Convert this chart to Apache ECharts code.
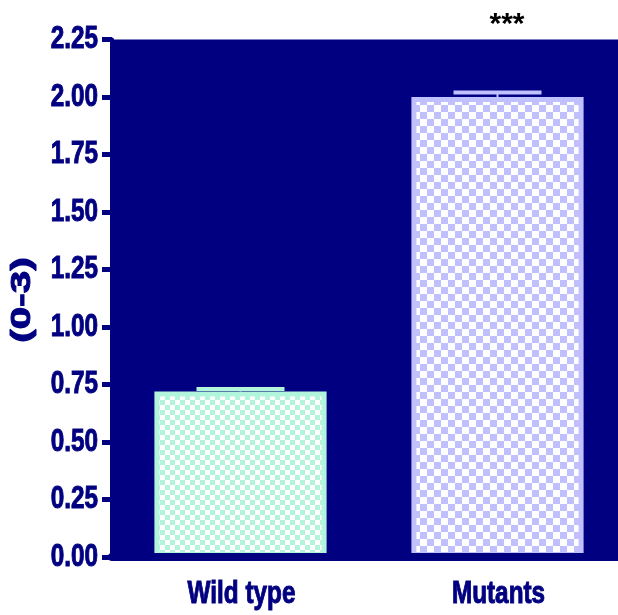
<!DOCTYPE html>
<html>
<head>
<meta charset="utf-8">
<script src="https://cdn.jsdelivr.net/npm/echarts@6/dist/echarts.min.js"></script>
<style>
  html, body { margin: 0; padding: 0; background: #ffffff; }
  #chart { width: 618px; height: 615px; }
</style>
</head>
<body>
<div id="chart"></div>
<script>
// Score (0-3) per group: bar = mean, cap = mean + SEM
const categories = ['Wild type', 'Mutants'];
const means = [0.72, 2.00];
const sems = [0.01, 0.02];
const yTicks = [0, 0.25, 0.5, 0.75, 1.0, 1.25, 1.5, 1.75, 2.0, 2.25];
const significance = '***';

const NAVY = '#000080';
const barColors = ['#b3f5dc', '#c0c0ff'];
const checkSizes = [5, 7];
// bold sans squeezed horizontally to get a narrow face
const LABEL_FONT = "'Liberation Sans', Arial, sans-serif";
const NARROW = 0.76;

// checkerboard tile: colour squares alternating with white
function checker(color, s) {
  const c = document.createElement('canvas');
  c.width = 2 * s; c.height = 2 * s;
  const g = c.getContext('2d');
  g.fillStyle = '#ffffff';
  g.fillRect(0, 0, 2 * s, 2 * s);
  g.fillStyle = color;
  g.fillRect(0, 0, s, s);
  g.fillRect(s, s, s, s);
  return c;
}

const chart = echarts.init(document.getElementById('chart'), null, { renderer: 'canvas' });

const barData = means.map((v, i) => ({
  value: v,
  itemStyle: {
    color: { image: checker(barColors[i], checkSizes[i]), repeat: 'repeat' },
    borderColor: barColors[i],
    borderWidth: 5
  }
}));

const errData = means.map((v, i) => [i, v, v + sems[i]]);

chart.setOption({
  animation: false,
  backgroundColor: '#ffffff',
  grid: {
    left: 112, top: 39.5, width: 514, height: 517.5,
    outerBoundsMode: 'none',
    show: true, backgroundColor: NAVY, borderWidth: 0
  },
  xAxis: {
    type: 'category',
    data: categories,
    z: 5,
    axisLine: { lineStyle: { color: NAVY, width: 8 } },
    axisTick: { alignWithLabel: true, length: 15, lineStyle: { color: NAVY, width: 5 } },
    axisLabel: { show: false },
    splitLine: { show: false }
  },
  yAxis: {
    type: 'value',
    min: yTicks[0], max: yTicks[yTicks.length - 1], interval: 0.25,
    z: 5,
    axisLine: { show: true, lineStyle: { color: NAVY, width: 4 } },
    axisTick: { show: true, length: 10, lineStyle: { color: NAVY, width: 5 } },
    axisLabel: { show: false },
    splitLine: { show: false }
  },
  series: [
    {
      type: 'bar',
      data: barData,
      barWidth: '67%',
      z: 2
    },
    {
      type: 'custom',
      z: 3,
      data: errData,
      renderItem: function (params, api) {
        const i = api.value(0);
        const base = api.coord([i, api.value(1)]);
        const top = api.coord([i, api.value(2)]);
        const half = 44;
        const col = barColors[i];
        return {
          type: 'group',
          children: [
            { type: 'line', shape: { x1: base[0], y1: base[1], x2: top[0], y2: top[1] },
              style: { stroke: col, lineWidth: 2 } },
            { type: 'line', shape: { x1: top[0] - half, y1: top[1], x2: top[0] + half, y2: top[1] },
              style: { stroke: col, lineWidth: 4 } }
          ]
        };
      }
    }
  ]
});

// heavier strokes for the label text
const heavy = { stroke: NAVY, lineWidth: 1 };

// tick labels placed at the axes' own pixel positions
const labels = [];
yTicks.forEach(t => {
  const y = chart.convertToPixel({ yAxisIndex: 0 }, t);
  labels.push({
    type: 'text', x: 98, y: y, scaleX: NARROW,
    style: Object.assign({ text: t.toFixed(2), fill: NAVY, font: 'bold 32px ' + LABEL_FONT,
             align: 'right', verticalAlign: 'middle' }, heavy)
  });
});
categories.forEach(c => {
  const x = chart.convertToPixel({ xAxisIndex: 0 }, c);
  labels.push({
    type: 'text', x: x + 1, y: 594, scaleX: NARROW,
    style: Object.assign({ text: c, fill: NAVY, font: 'bold 32px ' + LABEL_FONT,
             align: 'center', verticalAlign: 'middle' }, heavy)
  });
});
// axis title, reading bottom to top
labels.push({
  type: 'text', x: 22.5, y: 300, rotation: Math.PI / 2, scaleX: 1.5,
  style: Object.assign({ text: '(0-3)', fill: NAVY, font: 'bold 27px ' + LABEL_FONT,
           align: 'center', verticalAlign: 'middle' }, heavy)
});
// significance marker above the mutant bar
labels.push({
  type: 'text', x: 507, y: 25,
  style: { text: significance, fill: '#000000', font: 'bold 30px ' + LABEL_FONT,
           align: 'center', verticalAlign: 'middle' }
});

chart.setOption({ graphic: labels });
</script>
</body>
</html>
